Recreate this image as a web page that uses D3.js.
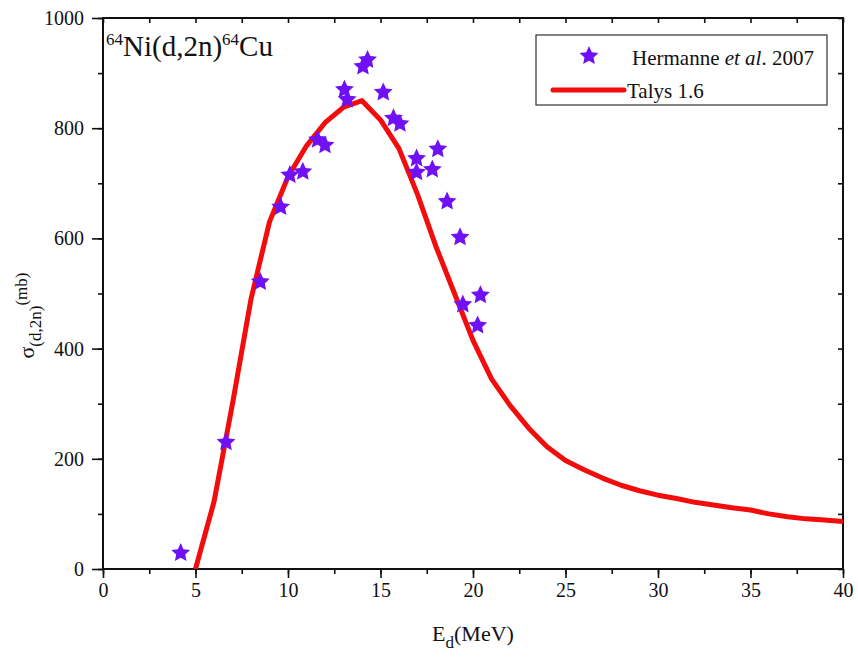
<!DOCTYPE html>
<html>
<head>
<meta charset="utf-8">
<script src="https://cdn.jsdelivr.net/npm/d3@7"></script>
<style>
  html, body { margin: 0; padding: 0; background: #fff; }
  svg text { font-family: "Liberation Serif", "Times New Roman", serif !important; }
</style>
</head>
<body>
<svg id="chart" width="858" height="659"></svg>
<script>
// ---- data ----
const expEnergy = [4.2, 6.65, 8.5, 9.6, 10.1, 10.8, 11.6, 12.0, 13.05, 13.2, 14.05, 14.3,
                   15.15, 15.7, 16.05, 16.95, 16.95, 17.8, 18.1, 18.6, 19.3, 19.45, 20.25, 20.4];
const expSigma  = [29, 230, 521, 657, 715, 721, 779, 769, 870, 852, 912, 924,
                   865, 818, 808, 745, 720, 725, 762, 667, 602, 480, 442, 497];
const talysEnergy = [5, 6, 7, 8, 9, 10, 11, 12, 13, 14, 15, 16, 17, 18, 19, 20,
                     21, 22, 23, 24, 25, 26, 27, 28, 29, 30, 31, 32, 33, 34, 35, 36, 37, 38, 39, 40];
const talysSigma  = [0, 122, 300, 490, 630, 712, 768, 810, 838, 850, 815, 763, 680, 585, 500, 415,
                     345, 297, 256, 222, 197, 180, 165, 152, 142, 134, 128, 121, 116, 111, 107, 100, 95, 91, 89, 86];
const xTicks = [0, 5, 10, 15, 20, 25, 30, 35, 40];
const yTicks = [0, 200, 400, 600, 800, 1000];
const legendLabels = ["Hermanne", "Talys 1.6"];

const svg = d3.select("#chart");
const margin = {left: 103, right: 15, top: 18, bottom: 90};
const W = 858, H = 659;
const x = d3.scaleLinear().domain([0, 40]).range([margin.left, W - margin.right]);
const y = d3.scaleLinear().domain([0, 1000]).range([H - margin.bottom, margin.top]);

const ink = "#111";
const fontSize = 20;

const xMinor = d3.range(0, 40.01, 2.5);
const yMinor = d3.range(0, 1000.1, 100);

function styleTicks(g) {
  g.selectAll(".tick line").attr("stroke", ink).attr("stroke-width", 1.6);
  g.selectAll(".tick text").attr("font-size", fontSize).attr("fill", ink);
  g.select(".domain").remove();
}

// bottom axis
svg.append("g").attr("transform", `translate(0,${y(0)})`)
  .call(d3.axisBottom(x).tickValues(xMinor).tickSize(5).tickFormat("")).call(styleTicks);
svg.append("g").attr("transform", `translate(0,${y(0)})`)
  .call(d3.axisBottom(x).tickValues(xTicks).tickSize(9).tickPadding(5).tickFormat(d3.format("d"))).call(styleTicks);

// left axis
svg.append("g").attr("transform", `translate(${x(0)},0)`)
  .call(d3.axisLeft(y).tickValues(yMinor).tickSize(5).tickFormat("")).call(styleTicks);
svg.append("g").attr("transform", `translate(${x(0)},0)`)
  .call(d3.axisLeft(y).tickValues(yTicks).tickSize(11).tickPadding(8).tickFormat(d3.format("d"))).call(styleTicks);

// top axis (inward ticks)
svg.append("g").attr("transform", `translate(0,${y(1000)})`)
  .call(d3.axisTop(x).tickValues(xMinor).tickSize(-5).tickFormat("")).call(styleTicks);
// right axis (inward ticks)
svg.append("g").attr("transform", `translate(${x(40)},0)`)
  .call(d3.axisRight(y).tickValues(yMinor).tickSize(-5).tickFormat("")).call(styleTicks);

// frame
svg.append("rect")
  .attr("x", x(0)).attr("y", y(1000))
  .attr("width", x(40) - x(0)).attr("height", y(0) - y(1000))
  .attr("fill", "none").attr("stroke", ink).attr("stroke-width", 2);

svg.append("clipPath").attr("id", "clip").append("rect")
  .attr("x", x(0)).attr("y", y(1000)).attr("width", x(40) - x(0)).attr("height", y(0) - y(1000));

// Talys line
const talys = talysEnergy.map((e, i) => [e, talysSigma[i]]);
const lineColor = "#f20c0c";
svg.append("path")
  .datum(talys)
  .attr("clip-path", "url(#clip)")
  .attr("fill", "none")
  .attr("stroke", lineColor)
  .attr("stroke-width", 5)
  .attr("stroke-linejoin", "round")
  .attr("d", d3.line().x(d => x(d[0])).y(d => y(d[1])));

// fat five-pointed star symbol (Origin-like)
const fatStar = {
  draw(context, size) {
    const r = Math.sqrt(size) * 0.72;
    const ri = r * 0.48;
    for (let i = 0; i < 10; i++) {
      const rad = i % 2 === 0 ? r : ri;
      const a = -Math.PI / 2 + i * Math.PI / 5;
      const px = rad * Math.cos(a), py = rad * Math.sin(a);
      if (i === 0) context.moveTo(px, py); else context.lineTo(px, py);
    }
    context.closePath();
  }
};
const starColor = "#7010f5";
const star = d3.symbol().type(fatStar).size(190);
svg.append("g").selectAll("path")
  .data(expEnergy.map((e, i) => [e, expSigma[i]]))
  .join("path")
  .attr("transform", d => `translate(${x(d[0])},${y(d[1])})`)
  .attr("d", star)
  .attr("fill", starColor);

// in-plot title
const t = svg.append("text").attr("x", 106).attr("y", 56).attr("fill", ink).attr("font-size", 29);
t.append("tspan").attr("font-size", 17).attr("dy", -11).text("64");
t.append("tspan").attr("dy", 11).text("Ni(d,2n)");
t.append("tspan").attr("font-size", 17).attr("dy", -11).text("64");
t.append("tspan").attr("dy", 11).text("Cu");

// legend
const lg = svg.append("g");
lg.append("rect").attr("x", 536).attr("y", 35).attr("width", 291).attr("height", 70)
  .attr("fill", "#fff").attr("stroke", "#333").attr("stroke-width", 1.2);
lg.append("path").attr("transform", "translate(589,56)").attr("d", star).attr("fill", starColor);
const l1 = lg.append("text").attr("x", 632).attr("y", 65).attr("font-size", 21).attr("fill", ink);
l1.append("tspan").text(legendLabels[0] + " ");
l1.append("tspan").attr("font-style", "italic").text("et al");
l1.append("tspan").text(". 2007");
lg.append("line").attr("x1", 553).attr("x2", 624).attr("y1", 90).attr("y2", 90)
  .attr("stroke", lineColor).attr("stroke-width", 5).attr("stroke-linecap", "round");
lg.append("text").attr("x", 627).attr("y", 98).attr("font-size", 21).attr("fill", ink).text(legendLabels[1]);

// axis titles
const xt = svg.append("text").attr("x", x(20)).attr("y", 641).attr("text-anchor", "middle")
  .attr("font-size", 22).attr("fill", ink);
xt.append("tspan").text("E");
xt.append("tspan").attr("font-size", 17).attr("dy", 7).text("d");
xt.append("tspan").attr("dy", -7).text("(MeV)");

const yt = svg.append("text").attr("transform", `translate(34,${y(500) + 22}) rotate(-90)`)
  .attr("text-anchor", "middle").attr("font-size", 22).attr("fill", ink);
yt.append("tspan").text("σ");
yt.append("tspan").attr("font-size", 17).attr("dy", 7).text("(d,2n)");
yt.append("tspan").attr("font-size", 17).attr("dy", -14).text("(mb)");
</script>
</body>
</html>
